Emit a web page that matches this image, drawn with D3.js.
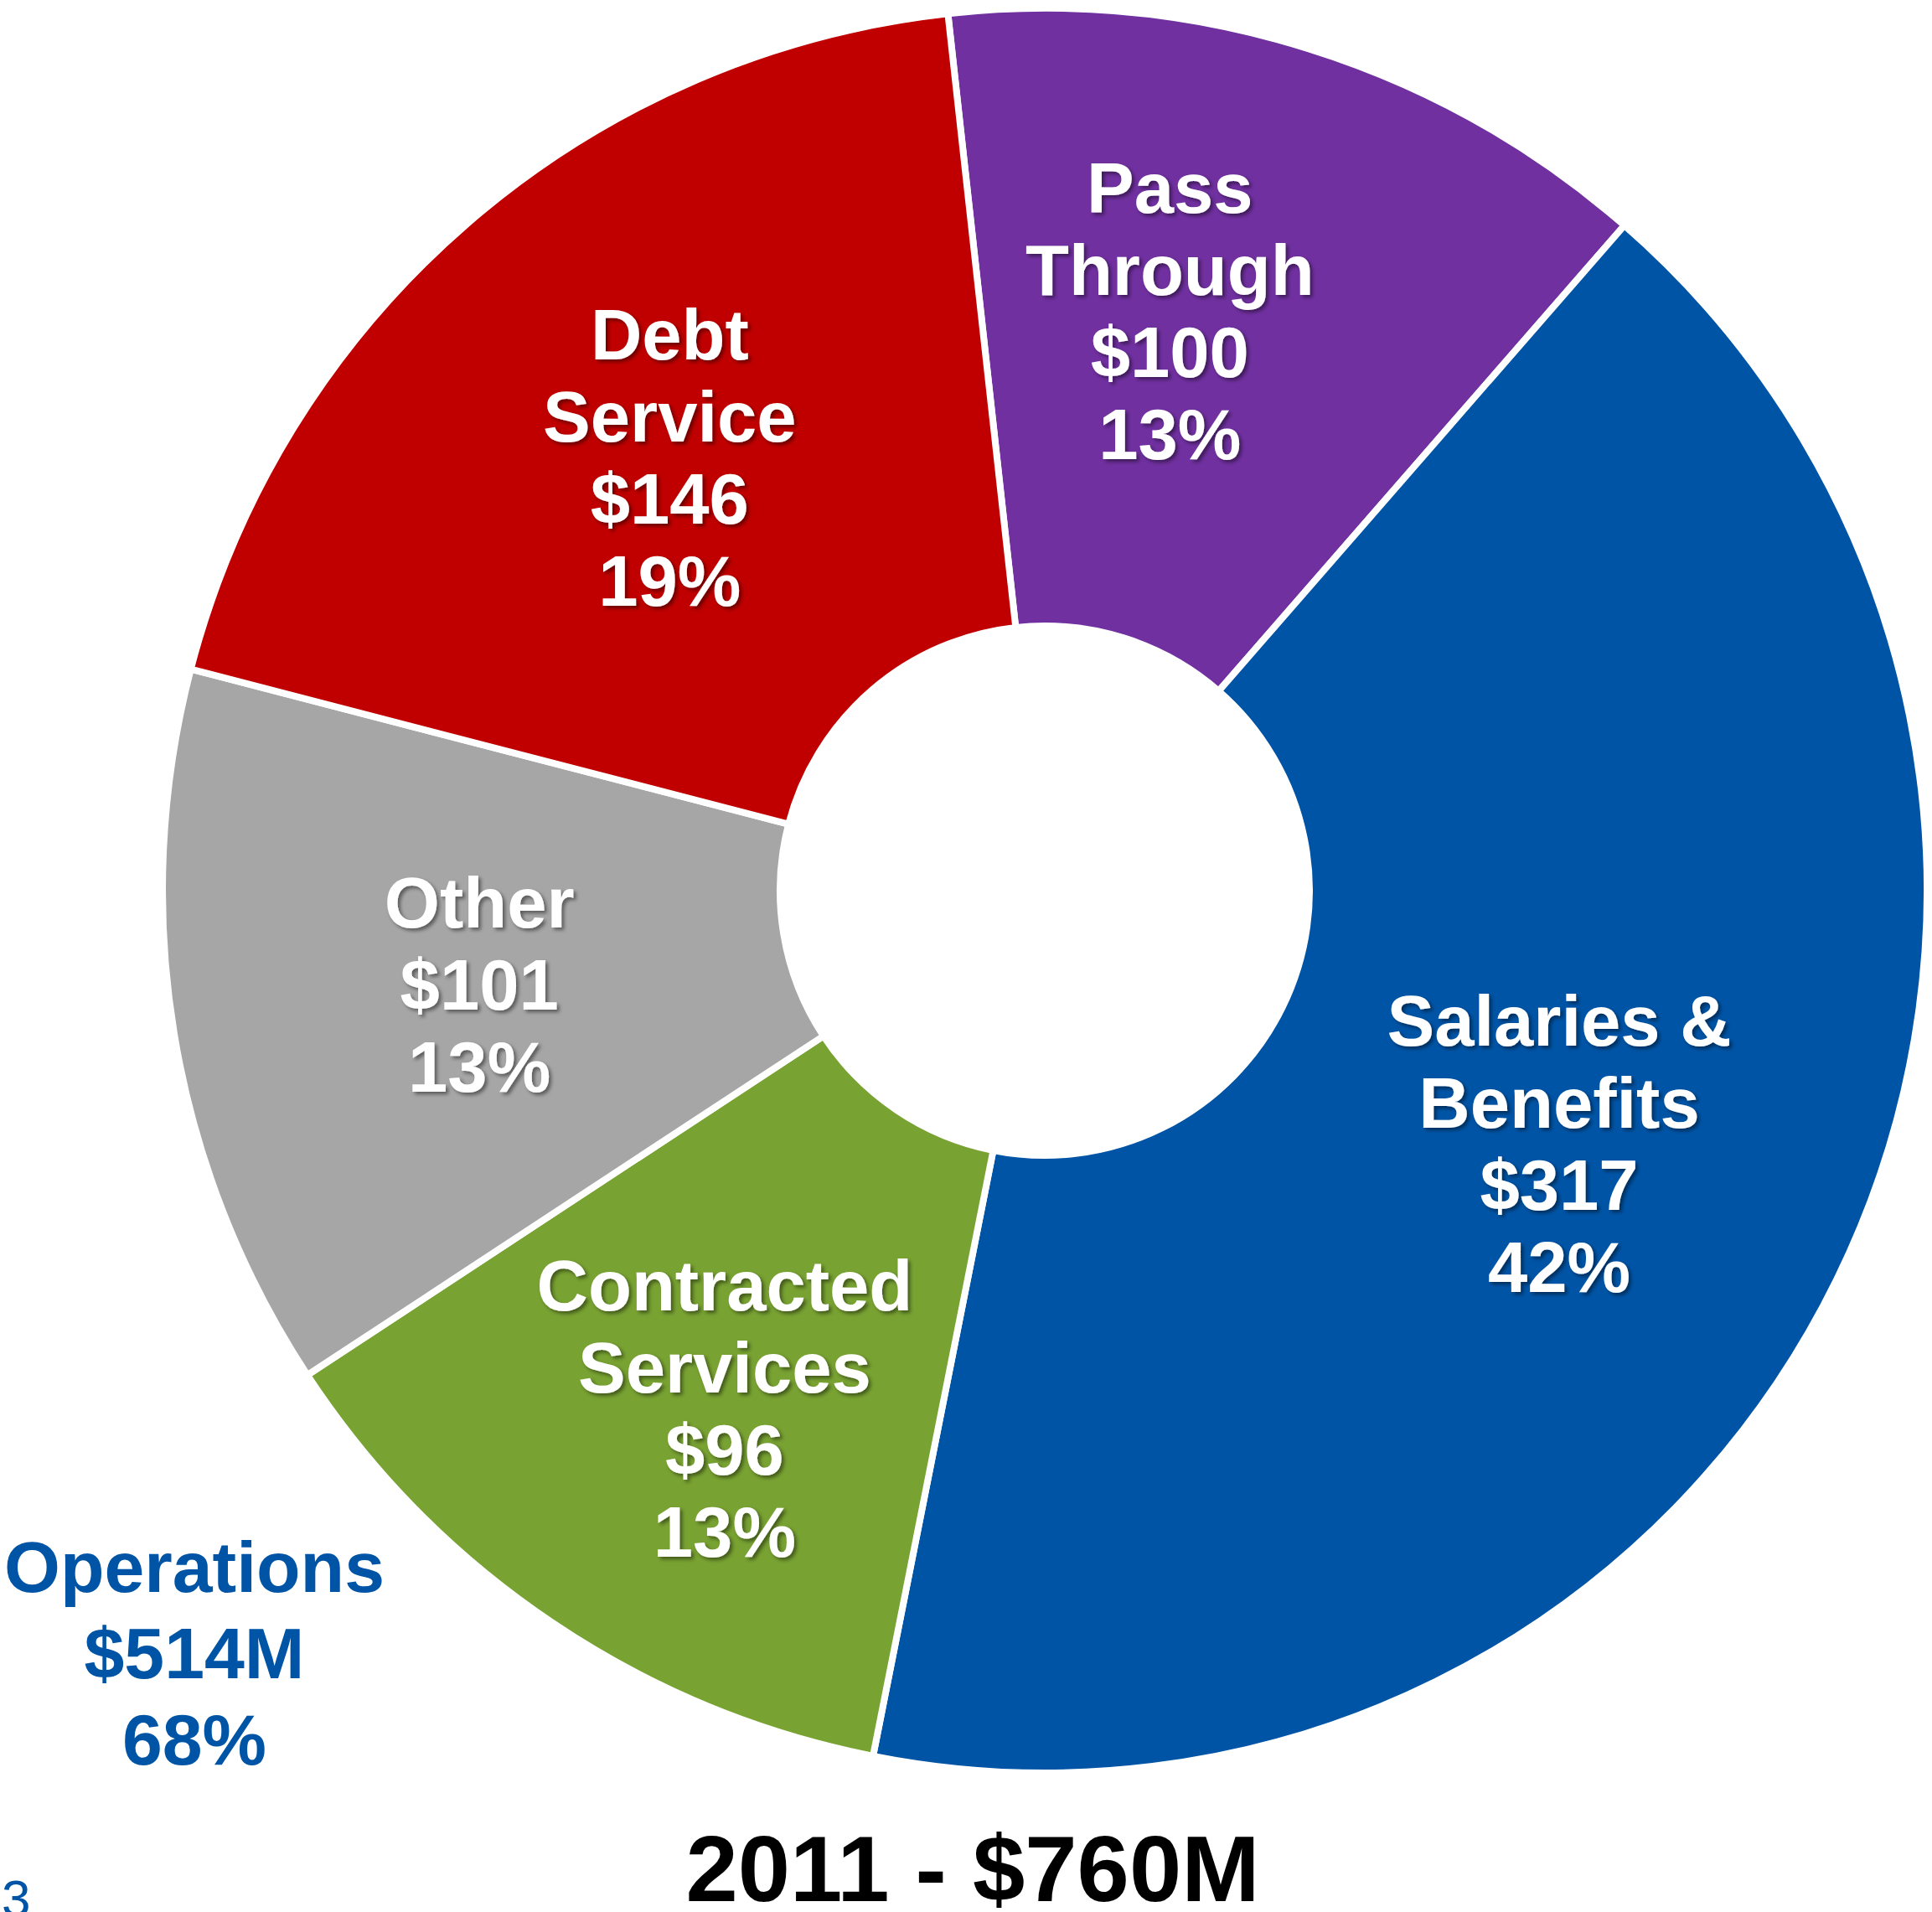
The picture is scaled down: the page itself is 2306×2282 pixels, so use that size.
<!DOCTYPE html>
<html>
<head>
<meta charset="utf-8">
<script src="https://cdn.jsdelivr.net/npm/d3@7/dist/d3.min.js"></script>
<style>
  html, body { margin: 0; padding: 0; background: #ffffff; }
  svg { display: block; }
  text { font-family: "Liberation Sans", Arial, "DejaVu Sans", sans-serif; font-weight: bold; }
</style>
</head>
<body>
<script>
// ---- data ----
const categories = ["Pass Through", "Salaries & Benefits", "Contracted Services", "Other", "Debt Service"];
const values = [100, 317, 96, 101, 146];
const labelLines = [["Pass", "Through"], ["Salaries &", "Benefits"], ["Contracted", "Services"], ["Other"], ["Debt", "Service"]];
const operationsGroup = ["Salaries & Benefits", "Contracted Services", "Other"];
const yearLabel = "2011";
const pageNumber = "3";

// ---- style / layout ----
const W = 2306, H = 2282;
const colors = {
  "Pass Through": "#7030A0",
  "Salaries & Benefits": "#0054A6",
  "Contracted Services": "#78A232",
  "Other": "#A6A6A6",
  "Debt Service": "#C00000"
};
const cx = 1247, cy = 1063;
const outerR = 1053, innerR = 316, labelR = 684;
const startAngle = -0.110;
const labelNudge = { "Pass Through": [-55, -40], "Contracted Services": [0, 50] };
const fontSize = 85, lineH = 98;

const total = d3.sum(values);
const data = categories.map((c, i) => ({ name: c, value: values[i], lines: labelLines[i] }));

const svg = d3.select("body").append("svg").attr("width", W).attr("height", H);

const defs = svg.append("defs");
const f = defs.append("filter").attr("id", "shadow").attr("x", "-10%").attr("y", "-10%").attr("width", "120%").attr("height", "120%");
f.append("feDropShadow").attr("dx", 3).attr("dy", 3).attr("stdDeviation", 2)
  .attr("flood-color", "#000").attr("flood-opacity", 0.45);

const pie = d3.pie().sort(null).value(d => d.value)
  .startAngle(startAngle).endAngle(startAngle + 2 * Math.PI);
const arcs = pie(data);
const arc = d3.arc().innerRadius(innerR).outerRadius(outerR);
const labelArc = d3.arc().innerRadius(labelR).outerRadius(labelR);

const g = svg.append("g").attr("transform", `translate(${cx},${cy})`);

g.selectAll("path.slice").data(arcs).join("path")
  .attr("class", "slice")
  .attr("d", arc)
  .attr("fill", d => colors[d.data.name])
  .attr("stroke", "#ffffff")
  .attr("stroke-width", 8)
  .attr("stroke-linejoin", "miter");

const pct = v => Math.round(v / total * 100) + "%";

const capH = fontSize * 0.716;
g.selectAll("text.lbl").data(arcs).join("text")
  .attr("class", "lbl")
  .attr("text-anchor", "middle")
  .attr("fill", "#ffffff")
  .attr("font-size", fontSize)
  .attr("filter", "url(#shadow)")
  .each(function (d) {
    const [px, py] = labelArc.centroid(d);
    const nudge = labelNudge[d.data.name] || [0, 0];
    const x = px + nudge[0], y = py + nudge[1];
    const lines = [...d.data.lines, "$" + d.data.value, pct(d.data.value)];
    const y0 = y - (lines.length - 1) * lineH / 2 + capH / 2;
    const t = d3.select(this);
    lines.forEach((s, i) => {
      t.append("tspan").attr("x", x).attr("y", y0 + i * lineH).text(s);
    });
  });

// Operations summary
const opsTotal = d3.sum(data.filter(d => operationsGroup.includes(d.name)), d => d.value);
const opsLines = ["Operations", "$" + opsTotal + "M", pct(opsTotal)];
const ops = svg.append("text")
  .attr("text-anchor", "middle")
  .attr("fill", "#0054A6")
  .attr("font-size", 86);
opsLines.forEach((s, i) => {
  ops.append("tspan").attr("x", 232).attr("y", 1900 + i * 103).text(s);
});

// Title
svg.append("text")
  .attr("x", 1161).attr("y", 2269)
  .attr("text-anchor", "middle")
  .attr("font-size", 112)
  .attr("fill", "#000000")
  .text(`${yearLabel} - $${total}M`);

// Page number
svg.append("text")
  .attr("x", 2).attr("y", 2287)
  .attr("font-size", 62)
  .style("font-weight", "normal")
  .attr("fill", "#0054A6")
  .text(pageNumber);
</script>
</body>
</html>
